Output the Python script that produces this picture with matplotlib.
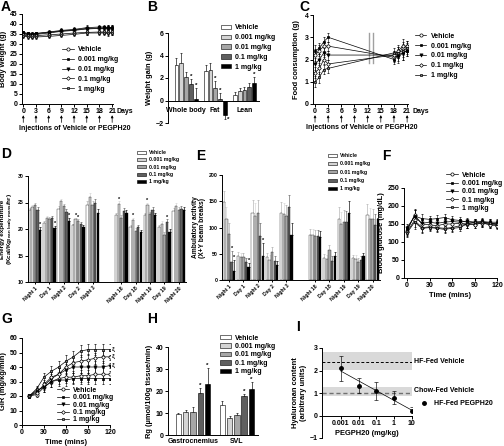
import numpy as np
import matplotlib
matplotlib.use('Agg')
import matplotlib.pyplot as plt
from matplotlib.lines import Line2D
from matplotlib.patches import Patch

plt.rcParams['font.family'] = ['Liberation Sans', 'DejaVu Sans']
plt.rcParams['font.weight'] = 'bold'
plt.rcParams['axes.labelweight'] = 'bold'
plt.rcParams['mathtext.default'] = 'regular'
plt.rcParams['axes.linewidth'] = 0.7

doses = ['Vehicle', '0.001 mg/kg', '0.01 mg/kg', '0.1 mg/kg', '1 mg/kg']
bar_colors = ['white', '#d4d4d4', '#a6a6a6', '#5f5f5f', 'black']

# A: body weight
a_days = [0, 1, 2, 3, 6, 9, 12, 15, 18, 19, 20, 21]
a_veh = [35.5, 35.0, 35.0, 35.2, 35.8, 36.5, 37.0, 37.8, 38.0, 38.0, 38.2, 38.2]
a_001 = [35.8, 35.3, 35.0, 35.3, 36.0, 36.8, 37.3, 38.2, 38.5, 38.5, 38.3, 38.3]
a_01 = [35.0, 34.8, 34.5, 34.8, 35.5, 36.3, 36.8, 37.5, 37.8, 37.8, 37.6, 37.6]
a_1_ = [34.5, 34.2, 34.0, 34.2, 34.6, 35.0, 35.5, 35.8, 36.0, 36.0, 35.8, 35.8]
a_1 = [34.0, 33.5, 33.3, 33.5, 33.8, 34.3, 34.8, 35.5, 35.5, 35.5, 35.3, 35.5]
a_err = [0.8, 0.8, 0.8, 0.8, 0.9, 1.0, 1.0, 1.1, 1.2, 1.2, 1.2, 1.2]

# B: weight gain
b_cats = ['Whole body', 'Fat', 'Lean']
b_veh = [3.2, 2.65, 0.5]
b_001 = [3.3, 2.7, 0.85]
b_01 = [2.1, 1.1, 0.95]
b_1_ = [1.5, 0.15, 1.2]
b_1 = [0.15, -1.3, 1.55]
b_err_veh = [0.6, 0.55, 0.3]
b_err_001 = [0.9, 0.6, 0.25]
b_err_01 = [0.45, 0.6, 0.25]
b_err_1_ = [0.4, 0.5, 0.35]
b_err_1 = [0.95, 0.35, 0.55]
b_stars = [(0, 3), (0, 4), (1, 2), (1, 3), (1, 4), (2, 4)]

# C: food consumption
c_days = [0, 1, 2, 3, 18, 19, 20, 21]
c_veh = [2.2, 2.4, 2.6, 2.6, 2.1, 2.3, 2.5, 2.6]
c_001 = [2.4, 2.5, 2.8, 3.0, 2.0, 2.2, 2.3, 2.4]
c_01 = [1.8, 2.0, 2.3, 2.2, 2.2, 2.1, 2.3, 2.4]
c_1_ = [1.4, 1.6, 2.0, 1.8, 2.2, 2.4, 2.6, 2.6]
c_1 = [1.0, 1.2, 1.55, 1.6, 2.3, 2.3, 2.4, 2.5]
c_err = [0.25, 0.25, 0.2, 0.2, 0.2, 0.25, 0.3, 0.25]

# D: energy expenditure
de_groups = ['Night 1', 'Day 1', 'Night 2', 'Day 2', 'Night 3',
             'Night 18', 'Day 18', 'Night 19', 'Day 19', 'Night 20']
de_pos = [0, 1, 2, 3, 4, 6, 7, 8, 9, 10]
d_veh = [23.5, 21.1, 23.8, 20.7, 24.6, 22.6, 20.4, 22.6, 20.3, 23.4]
d_001 = [24.1, 22.1, 25.2, 21.8, 26.1, 24.7, 21.7, 24.5, 21.0, 24.4]
d_01 = [24.5, 21.8, 24.3, 21.5, 24.6, 22.1, 19.7, 22.8, 18.9, 23.6]
d_1_ = [23.6, 22.1, 23.3, 21.0, 25.0, 23.4, 20.3, 23.6, 21.3, 23.7]
d_1 = [19.9, 20.2, 21.5, 20.4, 23.1, 23.0, 19.4, 22.6, 19.5, 23.6]
d_err = [0.5, 0.4, 0.5, 0.3, 0.6, 0.5, 0.4, 0.5, 0.5, 0.6]
d_stars = [(0, 4), (1, 4), (2, 4), (3, 1), (3, 2), (5, 1), (6, 1), (7, 1), (8, 3)]

# E: ambulatory activity
e_veh = [148, 45, 127, 43, 127, 86, 41, 117, 41, 124]
e_001 = [117, 44, 122, 38, 125, 85, 40, 107, 40, 117]
e_01 = [87, 43, 127, 54, 121, 84, 58, 111, 35, 116]
e_1_ = [34, 34, 83, 37, 139, 84, 37, 110, 38, 105]
e_1 = [17, 25, 45, 28, 86, 82, 45, 128, 45, 117]
e_err = [22, 8, 25, 9, 22, 12, 8, 22, 7, 20]
e_stars = [(0, 3), (0, 4), (1, 4), (2, 4)]

# F: blood glucose
f_time = [0, 10, 20, 30, 40, 50, 60, 70, 80, 90, 100, 110, 120]
f_veh = [130, 175, 150, 148, 145, 150, 150, 152, 150, 150, 152, 150, 148]
f_001 = [135, 172, 165, 163, 165, 168, 162, 160, 155, 155, 157, 155, 155]
f_01 = [140, 170, 152, 155, 152, 155, 157, 155, 158, 155, 155, 153, 150]
f_1_ = [128, 160, 140, 142, 140, 138, 140, 145, 150, 148, 153, 148, 145]
f_1 = [125, 155, 138, 140, 138, 135, 138, 140, 150, 155, 155, 152, 150]
f_err = [10, 18, 12, 10, 10, 10, 10, 10, 10, 10, 10, 10, 10]

# G: glucose infusion rate
g_time = [10, 20, 30, 40, 50, 60, 70, 80, 90, 100, 110, 120]
g_veh = [20, 21, 26, 30, 32, 33, 33, 34, 34, 35, 35, 35]
g_001 = [20, 24, 26, 30, 31, 31, 32, 32, 32, 32, 32, 32]
g_01 = [20, 23, 27, 32, 35, 38, 40, 40, 40, 40, 40, 41]
g_1_ = [20, 22, 28, 33, 35, 40, 43, 44, 45, 46, 47, 47]
g_1 = [20, 25, 33, 37, 40, 44, 47, 51, 52, 52, 52, 52]
g_err = [1.5, 2, 3, 3.5, 4, 4, 4, 4, 4, 4, 4, 4]

# H: Rg
h_cats = ['Gastrocnemius', 'SVL']
h_veh = [9.5, 13.6]
h_001 = [10.6, 7.9]
h_01 = [10.3, 9.1]
h_1_ = [19.1, 17.8]
h_1 = [23.3, 20.9]
h_err = [[0.4, 1.9], [0.8, 0.6], [2.5, 0.9], [2.3, 0.8], [7.2, 3.3]]
h_stars = [(0, 3), (0, 4), (1, 3), (1, 4)]

# I: hyaluronan content
i_dose = [0.001, 0.01, 0.1, 1, 10]
i_val = [2.1, 1.33, 1.1, 0.8, 0.2]
i_err = [0.55, 0.32, 0.4, 0.27, 0.2]
i_hf = 2.4
i_hf_band = (2.0, 2.8)
i_chow = 1.02
i_chow_band = (0.88, 1.25)

TF = 5.0   # tick font
LF = 5.4   # axis label font
GF = 5.0   # legend font
SF = 3.7   # small font for D/E

W, H = 504, 446
fig = plt.figure(figsize=(W / 100, H / 100), dpi=100)


def box(l, t, r, b):
    return fig.add_axes([l / W, 1 - b / H, (r - l) / W, (b - t) / H])


def style(ax, fs=TF):
    for s in ['top', 'right']:
        ax.spines[s].set_visible(False)
    ax.tick_params(length=2, width=0.7, pad=1.2, labelsize=fs)


def letter(x, y, s):
    fig.text(x / W, 1 - y / H, s, va='top', ha='left', fontsize=10, weight='bold')


mk = [dict(marker='o', mfc='white', ms=2.3), dict(marker='s', mfc='black', ms=2.1),
      dict(marker='v', mfc='black', ms=2.3), dict(marker='D', mfc='white', ms=1.9),
      dict(marker='s', mfc='#808080', ms=2.1)]


def plot_lines(ax, x, series, err):
    for i, y in enumerate(series):
        ax.errorbar(x, y, yerr=err, color='black', lw=0.5, mec='black', mew=0.5,
                    capsize=1, elinewidth=0.4, capthick=0.4, **mk[i])


def line_handles():
    return [Line2D([], [], color='black', lw=0.5, mec='black', mew=0.5, **mk[i]) for i in range(5)]


def bar_handles():
    return [Patch(facecolor=bar_colors[i], edgecolor='black', lw=0.4) for i in range(5)]


def legend(ax, handles, x, y, fs=GF, sp=0.4, hl=1.7):
    ax.legend(handles, doses, loc='upper left', bbox_to_anchor=(x, y), frameon=False,
              fontsize=fs, handlelength=hl, handleheight=0.6, handletextpad=0.6,
              labelspacing=sp, borderpad=0, borderaxespad=0)


def plot_bars(ax, pos, series, errs, step, width, stars, star_fs, ecol=None, lw=0.4):
    pos = np.asarray(pos, dtype=float)
    tops = {}
    for i, vals in enumerate(series):
        v = np.asarray(vals, dtype=float)
        e = np.asarray(errs[i], dtype=float) * np.ones_like(v)
        x = pos + (i - 2) * step
        ax.bar(x, v, width, color=bar_colors[i], edgecolor='black', lw=lw, zorder=2)
        lo = np.where(v < 0, e, 0)
        hi = np.where(v >= 0, e, 0)
        c = ecol if ecol else (bar_colors[i] if i > 0 else '#b0b0b0')
        ax.errorbar(x, v, yerr=[lo, hi], fmt='none', ecolor=c, elinewidth=0.45,
                    capsize=0.8, capthick=0.45, zorder=1)
        for j in range(len(v)):
            tops[(j, i)] = (x[j], v[j] + hi[j] if v[j] >= 0 else v[j] - lo[j])
    for key in stars:
        xs, ys = tops[key]
        if ys >= 0:
            ax.text(xs, ys, '*', ha='center', va='bottom', fontsize=star_fs)
        else:
            ax.text(xs + width * 0.9, ys, '*', ha='center', va='center', fontsize=star_fs)


def arrows(ax, days, y0, y1):
    for d in days:
        ax.annotate('', xy=(d, y1), xytext=(d, y0), xycoords=('data', 'axes fraction'),
                    textcoords=('data', 'axes fraction'), annotation_clip=False,
                    arrowprops=dict(arrowstyle='-|>', lw=0.5, color='black',
                                    mutation_scale=3.5, shrinkA=0, shrinkB=0))


# ---------------- A ----------------
axA = box(22, 14, 113, 104)
style(axA)
plot_lines(axA, a_days, [a_veh, a_001, a_01, a_1_, a_1], a_err)
axA.set_xlim(-0.3, 21.2)
axA.set_ylim(0, 45)
axA.set_xticks(range(0, 22, 3))
axA.set_yticks(range(0, 46, 5))
axA.set_ylabel('Body weight (g)', fontsize=LF, labelpad=2)
axA.text(22.0, -0.083, 'Days', transform=axA.get_xaxis_transform(), fontsize=TF, va='center')
arrows(axA, range(0, 22, 3), -0.205, -0.125)
axA.text(12.1, -0.267, 'Injections of Vehicle or PEGPH20', transform=axA.get_xaxis_transform(),
         fontsize=TF, ha='center', va='center')
legend(axA, line_handles(), 0.44, 0.64)
letter(1, 0, 'A')

# ---------------- B ----------------
axB = box(168, 33, 259, 123)
style(axB)
plot_bars(axB, [0, 1, 2], [b_veh, b_001, b_01, b_1_, b_1],
          [b_err_veh, b_err_001, b_err_01, b_err_1_, b_err_1], 0.165, 0.13, b_stars, 4.5, ecol='black')
axB.set_xlim(-0.62, 2.5)
axB.set_ylim(-2, 6)
axB.set_yticks([-2, 0, 2, 4, 6])
axB.spines['bottom'].set_position(('data', 0))
axB.set_xticks([0, 1, 2])
axB.set_xticklabels(b_cats)
axB.tick_params(axis='x', length=0, pad=5)
axB.set_ylabel('Weight gain (g)', fontsize=LF, labelpad=2)
legend(axB, bar_handles(), 0.58, 1.095, hl=1.5)
letter(147, 0, 'B')

# ---------------- C ----------------
axC = box(313, 15, 408, 104)
style(axC)
plot_lines(axC, c_days, [c_veh, c_001, c_01, c_1_, c_1], c_err)
axC.plot([12.3, 12.3], [1.85, 3.2], color='#a0a0a0', lw=1.0)
axC.plot([13.2, 13.2], [1.85, 3.2], color='#a0a0a0', lw=1.0)
axC.set_xlim(-0.46, 21.2)
axC.set_ylim(0, 4)
axC.set_xticks(range(0, 22, 3))
axC.set_yticks(range(0, 5))
axC.set_ylabel('Food consumption (g)', fontsize=LF, labelpad=3)
axC.text(22.3, -0.083, 'Days', transform=axC.get_xaxis_transform(), fontsize=TF, va='center')
arrows(axC, range(0, 22, 3), -0.205, -0.125)
axC.text(10.7, -0.267, 'Injections of Vehicle or PEGPH20', transform=axC.get_xaxis_transform(),
         fontsize=TF, ha='center', va='center')
legend(axC, line_handles(), 1.07, 0.80)
letter(299, 0, 'C')

# ---------------- D ----------------
axD = box(28, 176, 186, 282)
style(axD, fs=SF)
plot_bars(axD, de_pos, [d_veh, d_001, d_01, d_1_, d_1], [d_err] * 5, 0.18, 0.16, d_stars, 4, lw=0.25)
axD.set_xlim(-0.49, 10.5)
axD.set_ylim(10, 30)
axD.set_yticks([10, 15, 20, 25, 30])
axD.set_xticks(de_pos)
axD.set_xticklabels(de_groups, rotation=45, ha='right', rotation_mode='anchor')
axD.tick_params(axis='x', length=1.5, pad=1)
axD.set_ylabel('Energy expenditure\n(Kcal/Kg$_{lean\\ body\\ mass}$/hr)', fontsize=4.6,
               labelpad=1.2, linespacing=1.05)
legend(axD, bar_handles(), 0.69, 1.245, fs=SF, sp=0.45, hl=1.8)
letter(1, 147, 'D')

# ---------------- E ----------------
axE = box(222, 175, 380, 280)
style(axE, fs=SF)
plot_bars(axE, de_pos, [e_veh, e_001, e_01, e_1_, e_1], [e_err] * 5, 0.18, 0.16, e_stars, 4, lw=0.25)
axE.set_xlim(-0.49, 10.52)
axE.set_ylim(0, 200)
axE.set_yticks([0, 50, 100, 150, 200])
axE.set_xticks(de_pos)
axE.set_xticklabels(de_groups, rotation=45, ha='right', rotation_mode='anchor')
axE.tick_params(axis='x', length=1.5, pad=1)
axE.set_ylabel('Ambulatory activity\n(X+Y beam breaks)', fontsize=4.8, labelpad=1.5, linespacing=1.1)
legend(axE, bar_handles(), 0.67, 1.21, fs=SF, sp=0.65, hl=1.8)
letter(196, 149, 'E')

# ---------------- F ----------------
axF = box(404, 188, 497, 278)
style(axF)
plot_lines(axF, f_time, [f_veh, f_001, f_01, f_1_, f_1], f_err)
axF.set_xlim(-4, 120)
axF.set_ylim(0, 250)
axF.set_xticks([0, 30, 60, 90, 120])
axF.set_yticks([0, 50, 100, 150, 200, 250])
axF.set_xlabel('Time (mins)', fontsize=LF, labelpad=2)
axF.set_ylabel('Blood glucose (mg/dL)', fontsize=LF, labelpad=2)
legend(axF, line_handles(), 0.45, 1.18, sp=0.18)
letter(382, 149, 'F')

# ---------------- G ----------------
axG = box(22, 338, 110, 425)
style(axG)
plot_lines(axG, g_time, [g_veh, g_001, g_01, g_1_, g_1], g_err)
axG.set_xlim(0, 120)
axG.set_ylim(0, 60)
axG.set_xticks([0, 30, 60, 90, 120])
axG.set_yticks(range(0, 61, 10))
axG.set_xlabel('Time (mins)', fontsize=LF, labelpad=2)
axG.set_ylabel('GIR (mg/kg/min)', fontsize=LF, labelpad=2)
for s in [g_1, g_1_, g_01]:
    axG.text(123, s[-1], 'ξ', fontsize=4.5, va='center', ha='left', clip_on=False)
legend(axG, line_handles(), 0.40, 0.44, sp=0.06)
letter(1, 312, 'G')

# ---------------- H ----------------
axH = box(168, 347, 258, 435)
style(axH)
plot_bars(axH, [0, 1], [h_veh, h_001, h_01, h_1_, h_1], h_err, 0.166, 0.125, h_stars, 4.5, ecol='black')
axH.set_xlim(-0.57, 1.48)
axH.set_ylim(0, 40)
axH.set_yticks(range(0, 41, 10))
axH.set_xticks([0, 1])
axH.set_xticklabels(h_cats)
axH.tick_params(axis='x', length=0, pad=2)
axH.set_ylabel('Rg (µmol/100g tissue/min)', fontsize=LF, labelpad=2)
legend(axH, bar_handles(), 0.58, 1.14, sp=0.2, hl=1.5)
letter(147, 312, 'H')

# ---------------- I ----------------
axI = box(322, 348, 412, 438)
style(axI)
axI.set_xscale('log')
xmin, xmax = 10 ** -4.07, 10 ** 1.02
axI.fill_between([xmin, 10], i_hf_band[0], i_hf_band[1], color='#d9d9d9', lw=0, zorder=0)
axI.fill_between([xmin, 10], i_chow_band[0], i_chow_band[1], color='#d9d9d9', lw=0, zorder=0)
axI.plot([xmin, 10], [i_hf, i_hf], color='black', lw=0.7, ls=(0, (3, 2)))
axI.plot([xmin, 10], [i_chow, i_chow], color='#707070', lw=1.0, ls=(0, (3, 2)))
k, c0 = np.polyfit(np.log10(i_dose), i_val, 1)
xl = np.array([i_dose[0], i_dose[-1]])
axI.plot(xl, k * np.log10(xl) + c0, color='black', lw=0.5)
axI.errorbar(i_dose, i_val, yerr=i_err, fmt='o', color='black', ms=2.5, elinewidth=0.45,
             capsize=1.2, capthick=0.45)
axI.set_xlim(xmin, xmax)
axI.set_ylim(-1, 3)
axI.set_yticks([-1, 0, 1, 2, 3])
axI.spines['bottom'].set_position(('data', 0))
axI.set_xticks(i_dose)
axI.set_xticklabels(['0.001', '0.01', '0.1', '1', '10'])
axI.minorticks_off()
axI.set_xlabel('PEGPH20 (mg/kg)', fontsize=LF, labelpad=2)
axI.set_ylabel('Hyaluronan content\n(arbitrary units)', fontsize=LF, labelpad=2, linespacing=1.1)
axI.text(13, i_hf, 'HF-Fed Vehicle', fontsize=GF, va='center', ha='left')
axI.text(13, i_chow + 0.08, 'Chow-Fed Vehicle', fontsize=GF, va='center', ha='left')
axI.legend([Line2D([], [], ls='none', marker='o', color='black', ms=2.5)], ['HF-Fed PEGPH20'],
           loc='center left', bbox_to_anchor=(1.07, 0.378), frameon=False, fontsize=GF,
           handlelength=1.5, handletextpad=0.8, borderpad=0, borderaxespad=0)
letter(296, 320, 'I')

fig.savefig('out.png', dpi=100)
